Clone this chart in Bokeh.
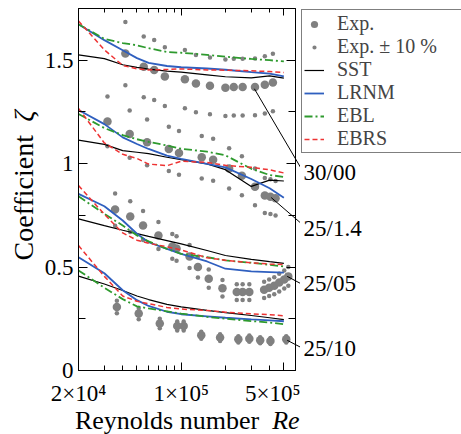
import math
from bokeh.plotting import figure
from bokeh.layouts import row
from bokeh.models import (FixedTicker, LinearAxis, LogAxis, Legend, LegendItem, Range1d)
from bokeh.core.properties import value
from bokeh.embed import file_html
from bokeh.resources import INLINE

# ---------------- data ----------------
case_names = ["30/00", "25/1.4", "25/05", "25/10"]

# experiments (Reynolds number, coefficient)
exp_re_30_00 = [4.17e4, 5.56e4, 6.55e4, 7.74e4, 1.06e5, 1.26e5, 1.57e5, 2.0e5, 2.28e5, 2.62e5, 3.18e5, 3.71e5, 4.21e5]
exp_z_30_00 = [1.532, 1.468, 1.453, 1.421, 1.408, 1.387, 1.376, 1.367, 1.370, 1.370, 1.371, 1.381, 1.392]

exp_re_25_14 = [3.15e4, 4.46e4, 5.86e4, 8.24e4, 9.66e4, 1.38e5, 1.65e5, 2.12e5, 2.59e5, 3.18e5, 3.71e5, 4.05e5, 4.39e5]
exp_z_25_14 = [1.204, 1.143, 1.103, 1.071, 1.052, 1.031, 1.019, 0.977, 0.942, 0.888, 0.846, 0.840, 0.833]

exp_re_25_05 = [3.55e4, 4.5e4, 5.5e4, 7.0e4, 8.7e4, 9.3e4, 1.14e5, 1.3e5, 1.54e5, 1.91e5, 2.39e5, 2.62e5,
                2.91e5, 3.67e5, 3.97e5, 4.3e5, 4.65e5, 5.03e5, 5.36e5]
exp_z_25_05 = [0.778, 0.744, 0.701, 0.653, 0.600, 0.590, 0.551, 0.500, 0.444, 0.398, 0.379, 0.379,
               0.379, 0.390, 0.400, 0.410, 0.425, 0.440, 0.455]

exp_re_25_10 = [3.65e4, 5.14e4, 7.15e4, 9.4e4, 1.04e5, 1.37e5, 1.84e5, 2.45e5, 2.91e5, 3.45e5, 4.05e5, 5.19e5]
exp_z_25_10 = [0.307, 0.275, 0.227, 0.215, 0.215, 0.170, 0.159, 0.151, 0.154, 0.146, 0.143, 0.151]

# model curves
re_model = [2e4, 3e4, 4e4, 5e4, 6e4, 8e4, 1e5, 1.5e5, 2e5, 3e5, 4e5, 5e5]

sst_30_00 = [1.526, 1.508, 1.478, 1.465, 1.457, 1.447, 1.442, 1.429, 1.420, 1.415, 1.424, 1.413]
lrnm_30_00 = [1.674, 1.597, 1.548, 1.510, 1.487, 1.472, 1.466, 1.460, 1.454, 1.442, 1.435, 1.422]
ebl_30_00 = [1.674, 1.603, 1.583, 1.572, 1.558, 1.540, 1.536, 1.526, 1.517, 1.506, 1.500, 1.494]
ebrs_30_00 = [1.690, 1.550, 1.475, 1.458, 1.453, 1.455, 1.458, 1.453, 1.452, 1.449, 1.445, 1.441]

sst_25_14 = [1.114, 1.093, 1.063, 1.055, 1.048, 1.031, 1.019, 0.999, 0.971, 0.890, 0.920, 0.916]
lrnm_25_14 = [1.259, 1.191, 1.127, 1.095, 1.071, 1.039, 1.023, 0.999, 0.982, 0.926, 0.881, 0.835]
ebl_25_14 = [1.240, 1.172, 1.138, 1.118, 1.105, 1.088, 1.072, 1.058, 1.040, 0.975, 0.945, 0.936]
ebrs_25_14 = [1.267, 1.100, 1.045, 1.025, 0.998, 0.990, 1.012, 1.006, 0.992, 0.982, 0.970, 0.955]

sst_25_05 = [0.733, 0.700, 0.678, 0.662, 0.648, 0.628, 0.612, 0.580, 0.556, 0.537, 0.526, 0.518]
lrnm_25_05 = [0.854, 0.794, 0.725, 0.661, 0.620, 0.588, 0.564, 0.527, 0.492, 0.479, 0.476, 0.473]
ebl_25_05 = [0.842, 0.757, 0.701, 0.653, 0.624, 0.588, 0.564, 0.548, 0.532, 0.521, 0.511, 0.503]
ebrs_25_05 = [0.894, 0.755, 0.665, 0.630, 0.615, 0.598, 0.583, 0.545, 0.533, 0.521, 0.515, 0.512]

sst_25_10 = [0.456, 0.418, 0.387, 0.360, 0.343, 0.320, 0.308, 0.291, 0.280, 0.266, 0.255, 0.246]
lrnm_25_10 = [0.548, 0.470, 0.388, 0.340, 0.312, 0.284, 0.272, 0.262, 0.255, 0.247, 0.242, 0.238]
ebl_25_10 = [0.484, 0.400, 0.345, 0.310, 0.300, 0.286, 0.275, 0.259, 0.251, 0.239, 0.232, 0.224]
ebrs_25_10 = [0.604, 0.455, 0.360, 0.335, 0.323, 0.305, 0.297, 0.290, 0.282, 0.274, 0.270, 0.264]

# ticks
x_major_ticks = [20000, 100000, 500000]
x_minor_ticks = [30000, 40000, 50000, 60000, 70000, 80000, 90000, 200000, 300000, 400000]
x_tick_labels = ["2×10⁴", "1×10⁵", "5×10⁵"]
y_major_ticks = [0, 0.5, 1, 1.5]
y_minor_ticks = [0.25, 0.75, 1.25]
y_tick_labels = ["0", "0.5", "1", "1.5"]

legend_labels = ["Exp.", "Exp. ± 10 %", "SST", "LRNM", "EBL", "EBRS"]

# ---------------- styles ----------------
FONT = "Liberation Serif"
GRAY = "#808080"
BLUE = "#2f5fbf"
GREEN = "#2e9a2e"
RED = "#ee3333"
EXP_STYLE = dict(size=8.5, color=GRAY, line_color=None)
SST_STYLE = dict(line_color="black", line_width=1.2)
LRNM_STYLE = dict(line_color=BLUE, line_width=1.8)
EBL_STYLE = dict(line_color=GREEN, line_width=1.8, line_dash="8 3 2 3")
EBRS_STYLE = dict(line_color=RED, line_width=1.5, line_dash="5 3")

# ---------------- main figure ----------------
p = figure(width=300, height=434, x_axis_type="log",
           x_range=Range1d(2e4, 6e5), y_range=Range1d(0, 1.75),
           output_backend="svg", toolbar_location=None,
           min_border_left=78, min_border_right=5,
           min_border_top=8, min_border_bottom=64)
p.background_fill_color = "white"
p.border_fill_color = "white"
p.outline_line_color = "black"
p.outline_line_width = 1
p.xgrid.visible = False
p.ygrid.visible = False

exp_re = exp_re_30_00 + exp_re_25_14 + exp_re_25_05 + exp_re_25_10
exp_z = exp_z_30_00 + exp_z_25_14 + exp_z_25_05 + exp_z_25_10
tol_re = exp_re + exp_re
tol_z = [z * 1.1 for z in exp_z] + [z * 0.9 for z in exp_z]

p.scatter(tol_re, tol_z, size=4.5, color=GRAY, line_color=None)
p.scatter(exp_re, exp_z, **EXP_STYLE)

xs = [re_model] * 4
p.multi_line(xs, [sst_30_00, sst_25_14, sst_25_05, sst_25_10], **SST_STYLE)
p.multi_line(xs, [lrnm_30_00, lrnm_25_14, lrnm_25_05, lrnm_25_10], **LRNM_STYLE)
p.multi_line(xs, [ebl_30_00, ebl_25_14, ebl_25_05, ebl_25_10], **EBL_STYLE)
p.multi_line(xs, [ebrs_30_00, ebrs_25_14, ebrs_25_05, ebrs_25_10], **EBRS_STYLE)

def style_axis(ax, major_in, minor_in):
    ax.axis_line_color = "black"
    ax.major_tick_line_color = "black"
    ax.minor_tick_line_color = "black"
    ax.major_tick_in = major_in
    ax.major_tick_out = 0
    ax.minor_tick_in = minor_in
    ax.minor_tick_out = 0
    ax.major_label_text_font = FONT
    ax.major_label_text_color = "black"

xa = p.xaxis[0]
xa.ticker = FixedTicker(ticks=x_major_ticks, minor_ticks=x_minor_ticks)
xa.major_label_overrides = dict(zip(x_major_ticks, x_tick_labels))
style_axis(xa, 8, 5)
xa.major_label_text_font_size = "23px"
xa.major_label_standoff = 10

ya = p.yaxis[0]
ya.ticker = FixedTicker(ticks=y_major_ticks, minor_ticks=y_minor_ticks)
ya.major_label_overrides = dict(zip(y_major_ticks, y_tick_labels))
style_axis(ya, 9, 7)
ya.major_label_text_font_size = "23px"
ya.major_label_standoff = 5

top = LogAxis(ticker=FixedTicker(ticks=x_major_ticks, minor_ticks=x_minor_ticks))
style_axis(top, 7, 4)
top.major_label_text_font_size = "1px"
top.major_label_text_alpha = 0
top.major_label_standoff = 0
p.add_layout(top, "above")

right = LinearAxis(ticker=FixedTicker(ticks=y_major_ticks, minor_ticks=y_minor_ticks))
style_axis(right, 9, 7)
right.major_label_text_font_size = "1px"
right.major_label_text_alpha = 0
right.major_label_standoff = 0
p.add_layout(right, "right")

# axis titles (overlay level so they are not clipped to the frame)
txt = dict(text_font=value(FONT), text_color="black", level="overlay")
p.text(x=[1.893e4], y=[-0.243], text=["Reynolds number"], text_font_size="26px",
       text_baseline="alphabetic", text_align="left", **txt)
p.text(x=[4.16e5], y=[-0.243], text=["Re"], text_font_size="26px", text_font_style="italic",
       text_baseline="alphabetic", text_align="left", **txt)
p.text(x=[8400], y=[0.532], text=["Coefficient"], angle=math.pi / 2, text_font_size="28px",
       text_baseline="alphabetic", text_align="left", **txt)
p.text(x=[8400], y=[1.202], text=["ζ"], angle=math.pi / 2, text_font_size="28px",
       text_font_style="italic", text_baseline="alphabetic", text_align="left", **txt)

# leader lines towards the case labels
lead_x0 = [3.15e5, 4.1e5, 5.27e5, 5.27e5]
lead_y0 = [1.362, 0.836, 0.455, 0.146]
lead_x1 = [6.63e5, 6.68e5, 6.68e5, 6.68e5]
lead_y1 = [0.971, 0.706, 0.416, 0.108]
p.segment(lead_x0, lead_y0, lead_x1, lead_y1, line_color="black", line_width=1, level="overlay")

# ---------------- side panel: legend and case labels ----------------
q = figure(width=161, height=434, x_range=Range1d(0, 161), y_range=p.y_range,
           x_axis_location=None, y_axis_location=None,
           output_backend="svg", toolbar_location=None,
           min_border_left=0, min_border_right=0,
           min_border_top=8, min_border_bottom=64)
q.outline_line_color = None
q.xgrid.visible = False
q.ygrid.visible = False
q.background_fill_color = "white"
q.border_fill_color = "white"

label_x = [3] * 4
label_y = [0.957, 0.685, 0.421, 0.108]
q.text(x=label_x, y=label_y, text=case_names, text_font_size="23px",
       text_baseline="middle", text_align="left", text_font=value(FONT), text_color="black")

# legend proxies: styled like the main renderers, placed outside the visible range
proxy_x = [-100, -90]
proxy_y = [-1, -1]
l_exp = q.scatter(proxy_x, proxy_y, **EXP_STYLE)
l_tol = q.scatter(proxy_x, proxy_y, size=4.5, fill_color=GRAY, line_color="white", line_width=3)
l_sst = q.line(proxy_x, proxy_y, **SST_STYLE)
l_lrnm = q.line(proxy_x, proxy_y, **LRNM_STYLE)
l_ebl = q.line(proxy_x, proxy_y, **EBL_STYLE)
l_ebrs = q.line(proxy_x, proxy_y, **EBRS_STYLE)

legend = Legend(items=[LegendItem(label=lbl, renderers=[r]) for lbl, r in
                       zip(legend_labels, [l_exp, l_tol, l_sst, l_lrnm, l_ebl, l_ebrs])],
                location="top_left", orientation="vertical",
                label_text_font=FONT, label_text_font_size="20px",
                glyph_width=20, glyph_height=18, label_height=18, label_width=130,
                label_standoff=13, padding=2, spacing=0, margin=1,
                border_line_color="black", border_line_width=1,
                background_fill_color="white", background_fill_alpha=1.0)
q.add_layout(legend)

layout = row(p, q)
open("out.html", "w").write(file_html(layout, INLINE))
